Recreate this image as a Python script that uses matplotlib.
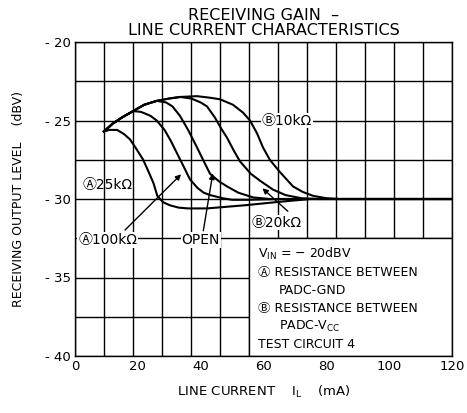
import numpy as np
import matplotlib.pyplot as plt
from matplotlib.patches import Rectangle

plt.rcParams['font.family'] = ['DejaVu Sans', 'Noto Sans CJK JP']

# shared rising part of the curves (mA, dBV)
env_x = [9.2, 12, 15, 18.5, 22, 26, 30, 33.5, 38.8]
env_y = [-25.7, -25.2, -24.8, -24.4, -24.0, -23.75, -23.6, -23.5, -23.45]

# A 25k
a25_x = [9.2, 11, 13.4, 15.5, 17.5, 19.5, 21.7, 23.5, 25, 26.2, 28, 30.2, 33, 36, 42, 48, 54, 59, 64, 69.4, 75, 120]
a25_y = [-25.7, -25.6, -25.6, -25.85, -26.2, -26.8, -27.5, -28.3, -29.0, -29.8, -30.2, -30.4, -30.55, -30.6,
         -30.6, -30.5, -30.4, -30.3, -30.2, -30.1, -30.0, -30.0]

# A 100k (after branching from the envelope at 18.5 mA)
a100_x = [21, 24, 26, 28.5, 30.5, 32.5, 34.5, 36.6, 39, 41, 43, 47, 50, 55, 65, 120]
a100_y = [-24.45, -24.7, -25.0, -25.6, -26.3, -27.1, -27.9, -28.75, -29.3, -29.6, -29.75, -29.95, -30.05,
          -30.05, -30.0, -30.0]

# OPEN (branch at 26 mA)
open_x = [29, 31, 33.4, 36, 38.8, 41, 43, 46, 48.4, 52, 56.7, 62, 120]
open_y = [-23.85, -24.1, -24.7, -25.6, -26.7, -27.6, -28.4, -28.9, -29.2, -29.6, -29.9, -30.0, -30.0]

# B 20k (branch at 33.5 mA)
b20_x = [37, 40, 42, 44.5, 46.5, 48.4, 50.5, 52.5, 56, 59, 63, 67, 72, 77, 120]
b20_y = [-23.6, -23.85, -24.1, -24.8, -25.5, -26.1, -26.9, -27.6, -28.4, -28.85, -29.4, -29.75, -29.95,
         -30.0, -30.0]

# B 10k (branch at 38.8 mA)
b10_x = [43, 46.2, 50.3, 53.5, 55.7, 57.9, 59.8, 62, 65.3, 69.4, 72.5, 75.8, 80, 84, 120]
b10_y = [-23.55, -23.65, -24.0, -24.5, -25.0, -25.8, -26.7, -27.5, -28.3, -29.2, -29.55, -29.8, -29.95,
         -30.0, -30.0]

branch = {'a100': 4, 'open': 6, 'b20': 8, 'b10': 9}

fig = plt.figure(figsize=(4.67, 4.13), dpi=100)
ax = fig.add_axes([75/467, 1 - 356/413, 377/467, 314/413])
ax.set_xlim(0, 120)
ax.set_ylim(-40, -20)

# grid (13 columns as in the original sheet)
for gx in np.linspace(0, 120, 14):
    ax.axvline(gx, color='black', lw=1.0, zorder=1)
for gy in np.arange(-40, -19, 2.5):
    ax.axhline(gy, color='black', lw=1.0, zorder=1)

lw = 1.5
ax.plot(a25_x, a25_y, color='black', lw=lw, zorder=3)
ax.plot(env_x[:branch['a100']] + a100_x, env_y[:branch['a100']] + a100_y, color='black', lw=lw, zorder=3)
ax.plot(env_x[:branch['open']] + open_x, env_y[:branch['open']] + open_y, color='black', lw=lw, zorder=3)
ax.plot(env_x[:branch['b20']] + b20_x, env_y[:branch['b20']] + b20_y, color='black', lw=lw, zorder=3)
ax.plot(env_x[:branch['b10']] + b10_x, env_y[:branch['b10']] + b10_y, color='black', lw=lw, zorder=3)

# condition box
ax.add_patch(Rectangle((6 * 120 / 13, -40), 120 - 6 * 120 / 13, 7.5, facecolor='white',
                       edgecolor='black', lw=1.0, zorder=2))
fs = 9
bx = 58.3
ax.text(bx, -33.5, r'V$_{\mathrm{IN}}$ = − 20dBV', fontsize=fs, va='center', zorder=4)
ax.text(bx, -34.65, 'Ⓐ RESISTANCE BETWEEN', fontsize=fs, va='center', zorder=4)
ax.text(bx + 6.6, -35.8, 'PADC-GND', fontsize=fs, va='center', zorder=4)
ax.text(bx, -36.95, 'Ⓑ RESISTANCE BETWEEN', fontsize=fs, va='center', zorder=4)
ax.text(bx + 6.6, -38.1, r'PADC-V$_{\mathrm{CC}}$', fontsize=fs, va='center', zorder=4)
ax.text(bx, -39.25, 'TEST CIRCUIT 4', fontsize=fs, va='center', zorder=4)

fl = 10
wb = dict(facecolor='white', edgecolor='none', pad=0.5)
ax.text(59.5, -25.0, 'Ⓑ10kΩ', fontsize=fl, va='center', bbox=wb, zorder=4)
ax.text(2.5, -29.1, 'Ⓐ25kΩ', fontsize=fl, va='center', zorder=4)
ax.text(1.0, -32.6, 'Ⓐ100kΩ', fontsize=fl, va='center', bbox=wb, zorder=4)
ax.text(40, -32.6, 'OPEN', fontsize=fl, va='center', ha='center', bbox=wb, zorder=4)
ax.text(56.3, -31.5, 'Ⓑ20kΩ', fontsize=fl, va='center', bbox=wb, zorder=4)

ap = dict(arrowstyle='-|>', color='black', lw=1.0, mutation_scale=8)
ax.annotate('', xy=(34.4, -28.3), xytext=(15.3, -32.1), arrowprops=ap, zorder=5)
ax.annotate('', xy=(44.0, -28.2), xytext=(40.7, -32.2), arrowprops=ap, zorder=5)
ax.annotate('', xy=(59.0, -29.2), xytext=(68.4, -30.9), arrowprops=ap, zorder=5)

ax.set_xticks(range(0, 121, 20))
ax.set_xticklabels([str(v) for v in range(0, 121, 20)])
ax.set_yticks(range(-40, -19, 5))
ax.set_yticklabels(['- %d' % -v for v in range(-40, -19, 5)])
ax.tick_params(length=0, labelsize=9.5, pad=3)
for s in ax.spines.values():
    s.set_linewidth(1.0)

ax.set_title('RECEIVING GAIN  –\nLINE CURRENT CHARACTERISTICS', fontsize=11.5, linespacing=1.0, pad=5)
ax.set_xlabel(r'LINE CURRENT    I$_{\mathrm{L}}$    (mA)', fontsize=9.5, labelpad=8)
ax.set_ylabel('RECEIVING OUTPUT LEVEL    (dBV)', fontsize=9, labelpad=14)

fig.savefig('out.png', dpi=100)
